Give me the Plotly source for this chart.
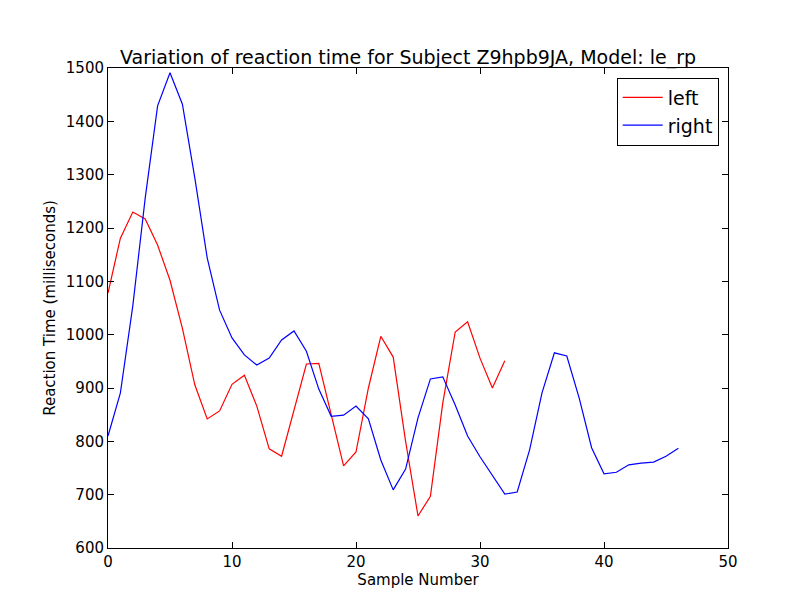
import plotly.graph_objects as go

left_y = [1078,1181,1230,1217,1168,1102,1012,906,842,857,907,924,866,786,772,860,945,946,850,754,780,900,997,958,800,660,697,872,1005,1024,956,900,951]
right_y = [810,891,1054,1256,1429,1491,1432,1294,1144,1046,994,962,943,956,990,1007,969,898,847,849,866,842,765,709,748,844,917,921,868,810,771,737,701,705,784,891,966,960,881,788,739,742,756,759,761,772,787]
left_x = list(range(len(left_y)))
right_x = list(range(len(right_y)))

fig = go.Figure()
fig.add_trace(go.Scatter(x=left_x, y=left_y, mode="lines", name="left", line=dict(color="red", width=1.2)))
fig.add_trace(go.Scatter(x=right_x, y=right_y, mode="lines", name="right", line=dict(color="blue", width=1.2)))

ax = dict(showgrid=False, zeroline=False, showline=True, linecolor="black", linewidth=1, mirror="ticks",
          ticks="inside", ticklen=6, tickcolor="black", tickfont=dict(size=15, color="black"), automargin=False)
fig.update_layout(
    width=800, height=600, plot_bgcolor="white", paper_bgcolor="white",
    font=dict(family="DejaVu Sans", color="black"),
    margin=dict(l=100, r=80, t=60, b=60, pad=0, autoexpand=False),
    title=dict(text="Variation of reaction time for Subject Z9hpb9JA, Model: le_rp", x=0.5, xanchor="center",
               yref="paper", y=1.0, yanchor="bottom", pad=dict(b=4), font=dict(size=19)),
    xaxis=dict(range=[0, 50], dtick=10, title=dict(text="Sample Number", font=dict(size=15), standoff=4), **ax),
    yaxis=dict(range=[600, 1500], dtick=100, title=dict(text="Reaction Time (milliseconds)", font=dict(size=15), standoff=6), **ax),
    legend=dict(x=0.985, y=0.98, xanchor="right", yanchor="top", bordercolor="black", borderwidth=1, bgcolor="white",
                font=dict(size=19), tracegroupgap=4, itemwidth=40),
)
fig.write_html("out.html")
